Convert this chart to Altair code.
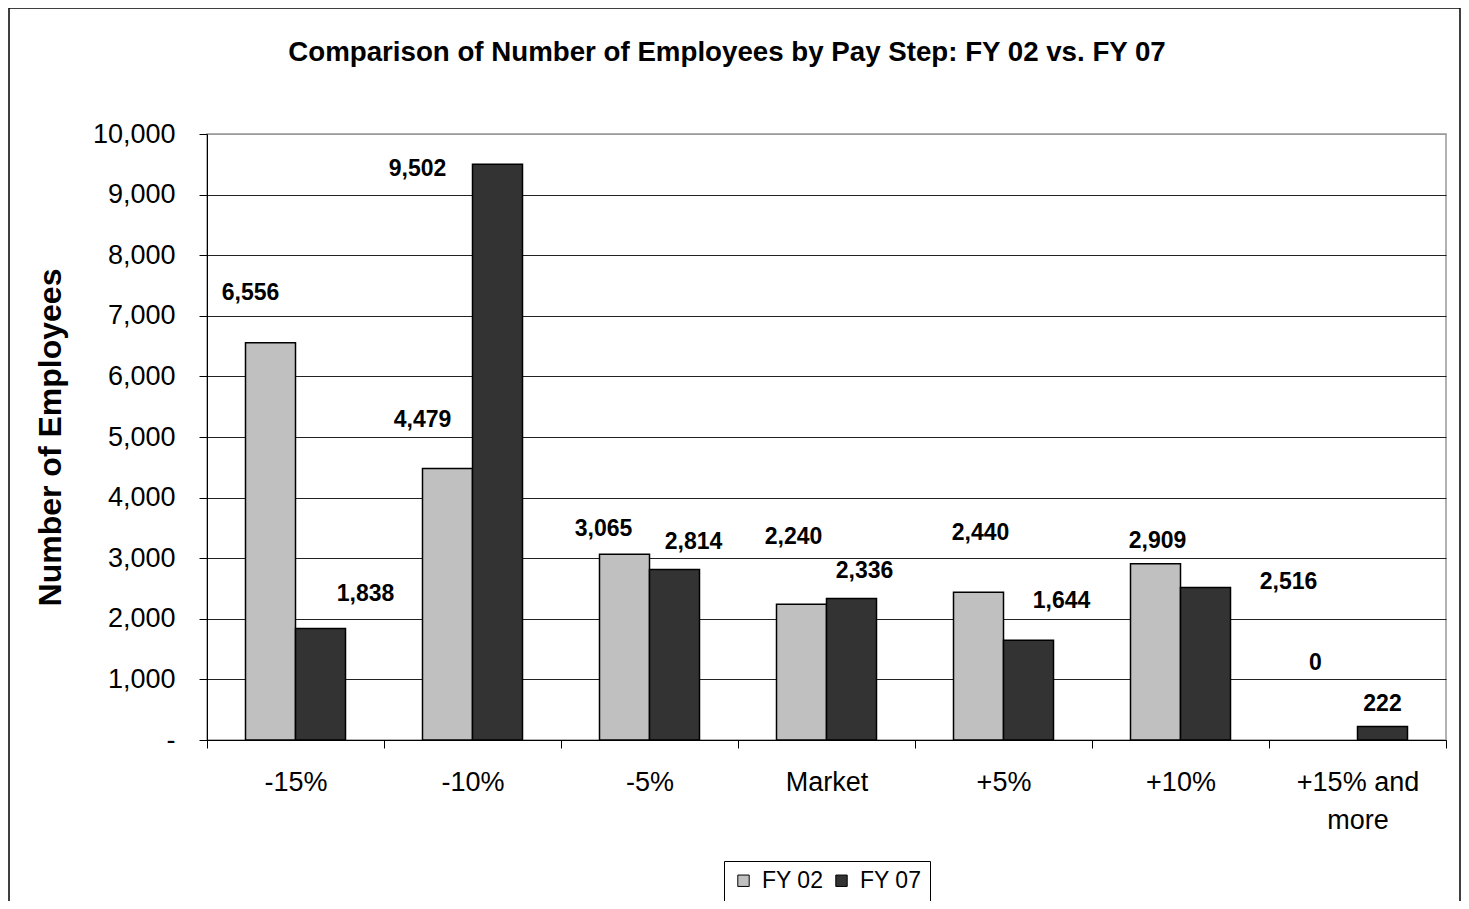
import altair as alt
import pandas as pd

# ---- data ----
categories = ["-15%", "-10%", "-5%", "Market", "+5%", "+10%", "+15% and more"]
series_names = ["FY 02", "FY 07"]
fy02 = [6556, 4479, 3065, 2240, 2440, 2909, 0]
fy07 = [1838, 9502, 2814, 2336, 1644, 2516, 222]
title_text = "Comparison of Number of Employees by Pay Step: FY 02 vs. FY 07"

# ---- label offsets (style: pixel nudges of each value label from its bar top) ----
label_dx_fy02 = [-20, -25, -21, -8, 2, 2, -17]
label_dy_fy02 = [-50, -49, -25, -67, -59, -23, -77]
label_dx_fy07 = [45, -80, 19, 13, 33, 83, 0]
label_dy_fy07 = [-35, 5, -27, -27, -39, -6, -23]

rows = []
for c, a, b in zip(categories, fy02, fy07):
    rows.append({"cat": c, "series": "FY 02", "value": a})
    rows.append({"cat": c, "series": "FY 07", "value": b})
df = pd.DataFrame(rows)

FONT = "Liberation Sans"
W, H = 1239, 606

x_enc = alt.X(
    "cat:N",
    sort=categories,
    scale=alt.Scale(paddingInner=0, paddingOuter=0),
    axis=alt.Axis(
        title=None,
        labelAngle=0,
        labelFontSize=27,
        labelFont=FONT,
        labelColor="#000",
        labelPadding=21,
        labelLineHeight=38,
        labelExpr="datum.label == '+15% and more' ? ['+15% and', 'more'] : datum.label",
        tickBand="extent",
        tickSize=8,
        tickColor="#000",
        domainColor="#000",
        grid=False,
    ),
)
xoff = alt.XOffset("series:N", sort=series_names,
                   scale=alt.Scale(paddingInner=0, paddingOuter=0.77))
y_enc = alt.Y(
    "value:Q",
    scale=alt.Scale(domain=[0, 10000], nice=False),
    axis=alt.Axis(
        title="Number of Employees",
        titleFont=FONT,
        titleFontSize=32,
        titleFontWeight="bold",
        titleColor="#000",
        titleAngle=270,
        titleX=-157,
        titleY=H / 2,
        titleAlign="center",
        titleBaseline="middle",
        values=list(range(0, 10001, 1000)),
        labelExpr="datum.value == 0 ? '-' : format(datum.value, ',')",
        labelFontSize=27,
        labelFont=FONT,
        labelColor="#000",
        labelPadding=24,
        tickSize=8,
        tickColor="#000",
        domainColor="#000",
        grid=True,
        gridColor={"expr": "datum.value == 10000 ? '#999999' : '#222222'"},
        gridWidth=1,
    ),
)

bars = alt.Chart(df).transform_filter(alt.datum.value > 0).mark_bar(
    stroke="#000", strokeWidth=1.5
).encode(
    x=x_enc,
    xOffset=xoff,
    y=y_enc,
    color=alt.Color(
        "series:N",
        scale=alt.Scale(domain=series_names, range=["#C0C0C0", "#333333"]),
        legend=alt.Legend(title=None, orient="none", direction="horizontal",
                          legendX=517, legendY=727),
    ),
)

label_layers = []
for s, dxs, dys in [("FY 02", label_dx_fy02, label_dy_fy02), ("FY 07", label_dx_fy07, label_dy_fy07)]:
    for i, c in enumerate(categories):
        lyr = alt.Chart(df).transform_filter(
            (alt.datum.series == s) & (alt.datum.cat == c)
        ).mark_text(
            font=FONT, fontSize=23, fontWeight="bold", color="#000",
            baseline="middle", align="center", dx=dxs[i], dy=dys[i],
        ).encode(
            x=alt.X("cat:N", sort=categories),
            xOffset=alt.XOffset("series:N", sort=series_names),
            y=alt.Y("value:Q"),
            text=alt.Text("value:Q", format=","),
        )
        label_layers.append(lyr)

frame = alt.Chart(alt.Data(values=[{}])).mark_rect(
    fill=None, stroke="#000", strokeWidth=1.5
).encode(
    x=alt.value(-198), x2=alt.value(1253),
    y=alt.value(-126), y2=alt.value(800),
)

title = alt.Chart(alt.Data(values=[{"t": title_text}])).mark_text(
    font=FONT, fontSize=27.7, fontWeight="bold", color="#000",
    align="center", baseline="middle",
).encode(
    x=alt.value(520), y=alt.value(-81), text="t:N",
)

chart = alt.layer(frame, title, bars, *label_layers).properties(
    width=W,
    height=H,
    autosize=alt.AutoSizeParams(type="none"),
    padding={"left": 199, "top": 126, "right": 15, "bottom": 161},
).configure(
    background="white"
).configure_view(
    stroke="#999999", strokeWidth=1.5
).configure_legend(
    labelFont=FONT,
    labelFontSize=23,
    labelColor="#000",
    symbolType="square",
    symbolSize=130,
    symbolStrokeColor="#000",
    symbolStrokeWidth=1,
    strokeColor="#000",
    fillColor="#fff",
    padding=8,
    labelOffset=7,
    columnPadding=6,
)

chart.save("out.html", embed_options={"renderer": "svg", "actions": False})
